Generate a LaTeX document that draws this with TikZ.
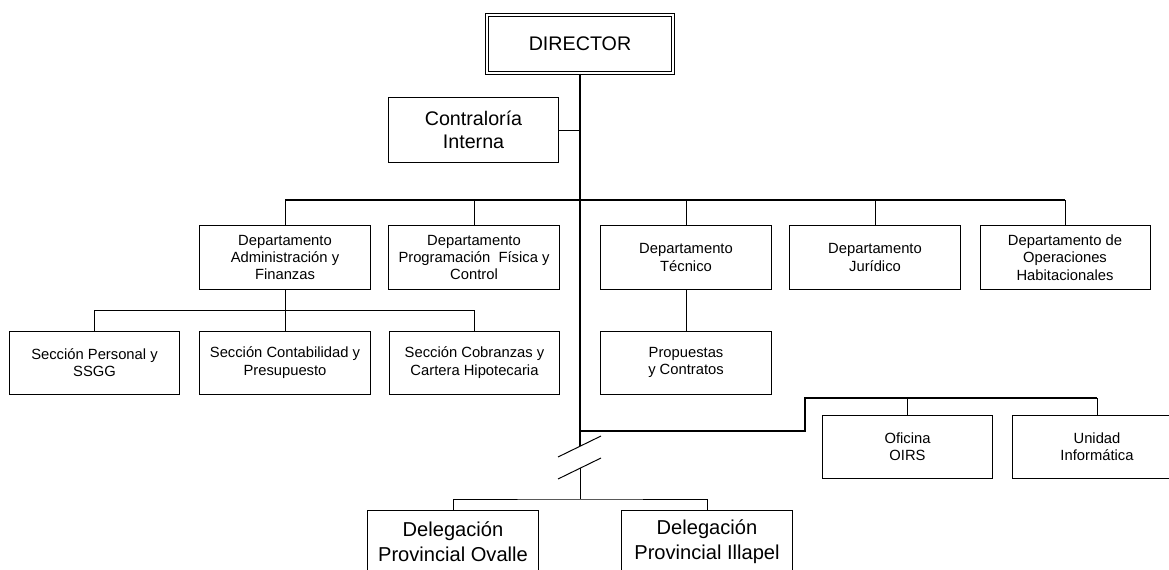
\documentclass[tikz,border=0pt]{standalone}
\usepackage{fontspec}
\setmainfont{Liberation Sans}
\begin{document}
\begin{tikzpicture}[
        x=0.025cm, y=-0.025cm,
        every node/.style={draw, rectangle, align=center, line width=0.7pt, inner sep=1pt,
            font=\fontsize{10.5}{12.3}\selectfont, minimum width=4.25cm, minimum height=1.575cm},
        big/.style={font=\fontsize{14}{16.3}\selectfont, minimum width=4.27cm, minimum height=1.6cm},
        deleg/.style={font=\fontsize{14.3}{18}\selectfont},
        boss/.style={big, double, line width=0.6pt, double distance=1.4pt,
            minimum width=4.66cm, minimum height=1.46cm},
        spine/.style={line width=1.3pt},
        link/.style={line width=0.7pt},
    ]
    \useasboundingbox (0,0) rectangle (1169,570);
    \clip (0,0) rectangle (1169,570);

    \node[boss](director) at (580,44) {DIRECTOR};
    \node[big](contraloria) at (473.5,130) {Contraloría\\ Interna};

    \node(admin) at (285,257.5) {Departamento\\ Administración y\\ Finanzas};
    \node(prog) at (474,257.5) {Departamento\\ Programación~ Física y\\ Control};
    \node(tecnico) at (686,257.5) {Departamento\\ Técnico};
    \node(juridico) at (875,257.5) {Departamento\\ Jurídico};
    \node(operaciones) at (1065,257.5) {Departamento de\\ Operaciones\\ Habitacionales};

    \node(personal) at (94.5,362.5) {Sección Personal y\\ SSGG};
    \node(contab) at (285,362.5) {Sección Contabilidad y\\ Presupuesto};
    \node(cobranzas) at (474.5,362.5) {Sección Cobranzas y\\ Cartera Hipotecaria};
    \node(propuestas) at (686,362.5) {Propuestas\\ y Contratos};

    \node(oirs) at (907.5,446.5) {Oficina\\ OIRS};
    \node(unidad) at (1097,446.5) {Unidad\\ Informática};

    \node[deleg](ovalle) at (453,541.5) {Delegación\\ Provincial Ovalle};
    \node[deleg](illapel) at (707,541.5) {Delegación\\ Provincial Illapel};

    % points on the main line
    \coordinate (topbus) at (580,200);
    \coordinate (side) at (580,431);
    \coordinate (brk1) at (580,446);
    \coordinate (brk2) at (580,468);
    \coordinate (botbus) at (580,499);
    \coordinate (subbus) at (285,310);
    \coordinate (sidebus) at (805,398);

    % main line
    \draw[spine] (director.south) -- (brk1);
    \draw[link] (brk2) -- (botbus);
    \draw[link] (brk1) ++(-22,11) -- ++(43,-21);
    \draw[link] (brk2) ++(-22,11) -- ++(43,-21);
    \draw[link] (contraloria.east) -- (contraloria.east -| director.south);

    % departments
    \draw[spine] (admin.north |- topbus) -- (operaciones.north |- topbus);
    \foreach \d in {admin,prog,tecnico,juridico,operaciones}
        \draw[link] (\d.north) -- (\d.north |- topbus);

    % sections
    \draw[link] (admin.south) -- (contab.north);
    \draw[link] (personal.north) |- (cobranzas.north |- subbus) -- (cobranzas.north);
    \draw[link] (tecnico.south) -- (propuestas.north);

    % side branch
    \draw[spine] (side) -| (sidebus) -- (unidad.north |- sidebus);
    \draw[link] (oirs.north) -- (oirs.north |- sidebus);
    \draw[link] (unidad.north) -- (unidad.north |- sidebus);

    % delegations
    \draw[link] (ovalle.north) |- (botbus) -| (illapel.north);

    \end{tikzpicture}
\end{document}
